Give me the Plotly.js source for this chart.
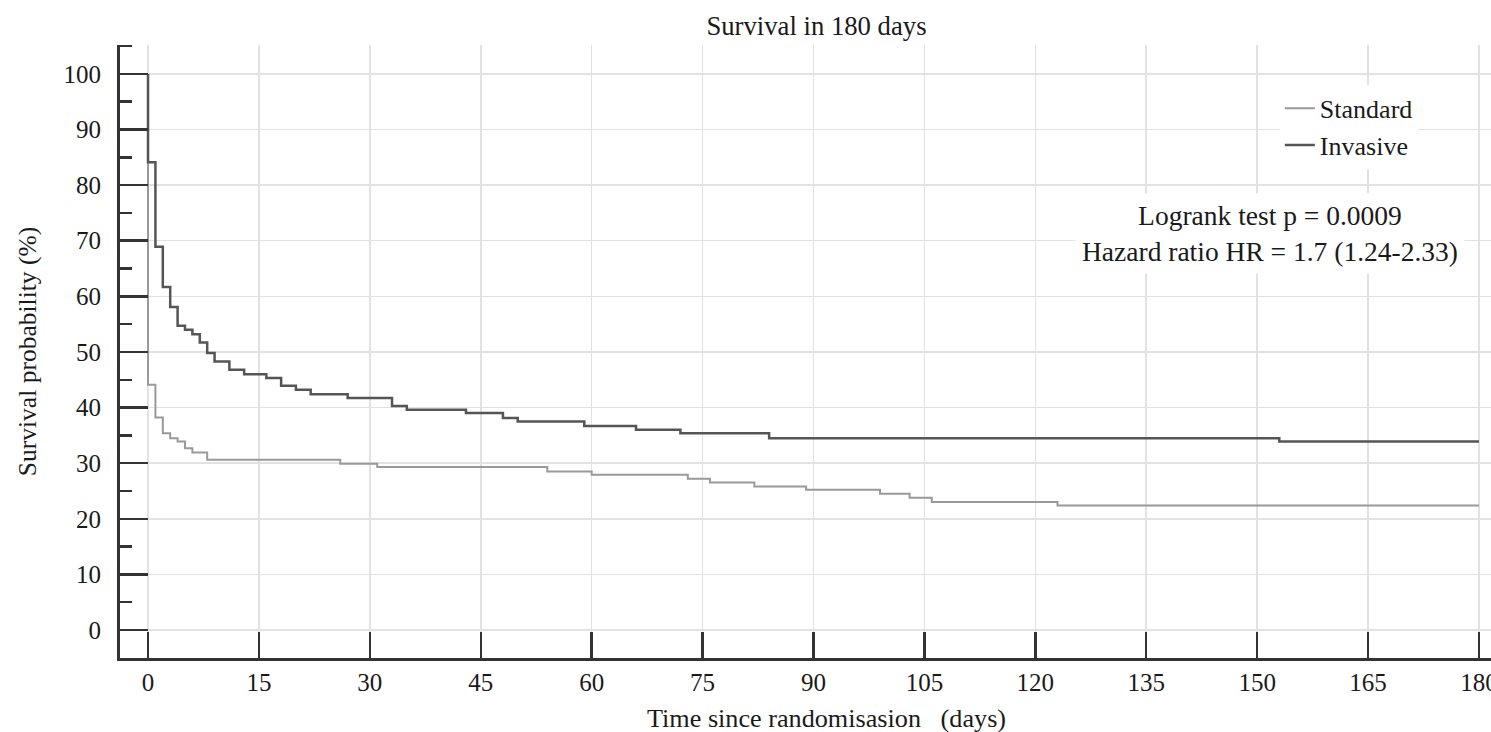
<!DOCTYPE html>
<html>
<head>
<meta charset="utf-8">
<script src="https://cdn.plot.ly/plotly-3.0.1.min.js"></script>
<style>html,body{margin:0;padding:0;background:#fff;}#chart{width:1491px;height:732px;}</style>
</head>
<body>
<div id="chart"></div>
<script>
// Kaplan-Meier step data (days, survival %)
const standardDays = [0, 0, 1, 2, 3, 4, 5, 6, 8, 26, 31, 54, 60, 73, 76, 82, 89, 99, 103, 106, 123, 180];
const standardSurv = [100, 44.1, 38.2, 35.4, 34.5, 33.9, 32.7, 31.9, 30.6, 29.9, 29.3, 28.5, 27.9, 27.2, 26.5, 25.8, 25.2, 24.5, 23.8, 23.0, 22.4, 22.4];

const invasiveDays = [0, 0, 1, 2, 3, 4, 5, 6, 7, 8, 9, 11, 13, 16, 18, 20, 22, 27, 33, 35, 43, 48, 50, 59, 66, 72, 84, 153, 180];
const invasiveSurv = [100, 84.1, 68.9, 61.7, 58.1, 54.7, 54.0, 53.2, 51.7, 49.8, 48.3, 46.8, 46.0, 45.3, 43.9, 43.2, 42.4, 41.7, 40.3, 39.6, 39.0, 38.1, 37.5, 36.7, 36.0, 35.4, 34.5, 33.9, 33.9];

const xTicks = [0, 15, 30, 45, 60, 75, 90, 105, 120, 135, 150, 165, 180];
const yTicks = [0, 10, 20, 30, 40, 50, 60, 70, 80, 90, 100];

const chartTitle = "Survival in 180 days";
const xTitle = "Time since randomisasion \u00a0 (days)";
const yTitle = "Survival probability (%)";
const statsText = "Logrank test p = 0.0009<br>Hazard ratio HR = 1.7 (1.24-2.33)";
const riskText = "Number at risk";

const FONT = "'Liberation Serif', 'Times New Roman', 'DejaVu Serif', serif";
const TXT = "#1a1a1a";

const traces = [
  {x: standardDays, y: standardSurv, name: "Standard", type: "scatter", mode: "lines",
   line: {shape: "hv", color: "#999999", width: 2}},
  {x: invasiveDays, y: invasiveSurv, name: "Invasive", type: "scatter", mode: "lines",
   line: {shape: "hv", color: "#555555", width: 2.5}}
];

const layout = {
  width: 1491, height: 732,
  margin: {l: 120, r: 0, t: 45, b: 74, pad: 0},
  paper_bgcolor: "#fff", plot_bgcolor: "#fff",
  font: {family: FONT, color: TXT, size: 25},
  title: {text: chartTitle, font: {family: FONT, size: 26.7, color: TXT},
          x: 0.508, xref: "paper", xanchor: "center", y: 0.9645, yref: "container", yanchor: "middle"},
  xaxis: {
    range: [-3.79, 181.63], tickvals: xTicks, ticktext: xTicks.map(String),
    ticks: "inside", ticklen: 26, tickwidth: 2.5, tickcolor: "#333",
    showline: true, linewidth: 3, linecolor: "#333", mirror: false,
    showgrid: true, gridcolor: "#e2e2e2", gridwidth: 1.5, zeroline: false,
    tickfont: {family: FONT, size: 25, color: TXT}, ticklabelstandoff: 0, ticklabeloverflow: "allow"
  },
  yaxis: {
    range: [-5.04, 105.2], tickvals: yTicks, ticktext: yTicks.map(String),
    ticks: "inside", ticklen: 28, tickwidth: 2.5, tickcolor: "#333",
    minor: {dtick: 5, tick0: 0, ticks: "inside", ticklen: 12, tickwidth: 2.5, tickcolor: "#333", showgrid: false},
    showline: true, linewidth: 3, linecolor: "#333",
    showgrid: true, gridcolor: "#e2e2e2", gridwidth: 1.5, zeroline: false,
    tickfont: {family: FONT, size: 25, color: TXT}, ticklabelstandoff: 11,
    title: {text: yTitle, font: {family: FONT, size: 25.5, color: TXT}, standoff: 20}
  },
  showlegend: true,
  legend: {x: 0.846, y: 0.935, xanchor: "left", yanchor: "top", bgcolor: "#fff", borderwidth: 0,
           font: {family: FONT, size: 26, color: TXT}, tracegroupgap: 0},
  annotations: [
    {text: xTitle, xref: "paper", yref: "paper", x: 0.515, y: -0.0979, xanchor: "center", yanchor: "middle",
     showarrow: false, font: {family: FONT, size: 26.2, color: TXT}},
    {text: statsText, xref: "paper", yref: "paper", x: 0.839, y: 0.692, xanchor: "center", yanchor: "middle",
     showarrow: false, align: "center", bgcolor: "#fff", borderpad: 6,
     font: {family: FONT, size: 27.5, color: TXT}},
    {text: riskText, xref: "paper", yref: "paper", x: -0.0766, y: -0.111, xanchor: "left", yanchor: "top",
     showarrow: false, align: "left", font: {family: FONT, size: 25, color: TXT}}
  ]
};

Plotly.newPlot("chart", traces, layout, {displayModeBar: false, staticPlot: true});
</script>
</body>
</html>
